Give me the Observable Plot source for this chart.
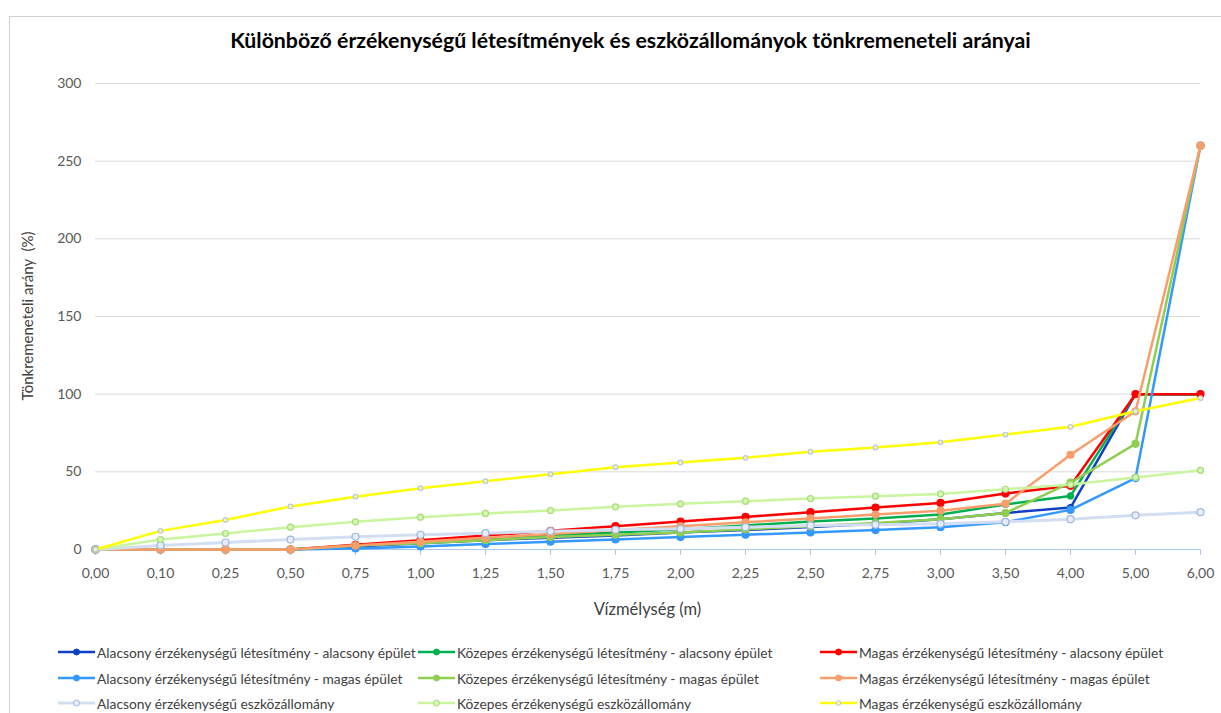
<!DOCTYPE html>
<html><head><meta charset="utf-8">
<script src="https://cdn.jsdelivr.net/npm/d3@7"></script>
<script src="https://cdn.jsdelivr.net/npm/@observablehq/plot@0.6"></script>
<style>
body{margin:0;background:#fff;font-family:Lato,"Open Sans",sans-serif;}
#wrap{position:relative;width:1221px;height:713px;overflow:hidden;background:#fff}
#frame{position:absolute;left:9px;top:16px;width:1240px;height:740px;border:1px solid #d0d0d0;}
#title{position:absolute;top:27px;left:20px;width:1221px;text-align:center;font-size:21.3px;font-weight:bold;color:#000}
#chart{position:absolute;left:0;top:0}
#ylab{position:absolute;left:27px;top:316px;transform:translate(-50%,-50%) rotate(-90deg);font-size:15px;color:#404040;white-space:pre}
#xlab{position:absolute;left:95px;width:1105px;top:599px;text-align:center;font-size:16.5px;color:#404040}
.leg{position:absolute;font-size:13.8px;color:#404040;display:flex;align-items:center;white-space:nowrap;height:16px}
.leg svg{margin-right:2px}
</style></head>
<body><div id="wrap"><div id="frame"></div><div id="chart"></div>
<div id="title">Különböző érzékenységű létesítmények és eszközállományok tönkremeneteli arányai</div>
<div id="ylab">Tönkremeneteli arány  (%)</div>
<div id="xlab">Vízmélység (m)</div>
</div>
<script>
const depths = ["0,00","0,10","0,25","0,50","0,75","1,00","1,25","1,50","1,75","2,00","2,25","2,50","2,75","3,00","3,50","4,00","5,00","6,00"];
const yTicks = [0,50,100,150,200,250,300];
const seriesNames = [
  "Alacsony érzékenységű létesítmény - alacsony épület",
  "Közepes érzékenységű létesítmény - alacsony épület",
  "Magas érzékenységű létesítmény - alacsony épület",
  "Alacsony érzékenységű létesítmény - magas épület",
  "Közepes érzékenységű létesítmény - magas épület",
  "Magas érzékenységű létesítmény - magas épület",
  "Alacsony érzékenységű eszközállomány",
  "Közepes érzékenységű eszközállomány",
  "Magas érzékenységű eszközállomány"
];
const alacsonyAlacsony = [0,0,0,0,2,4,6,7.5,9,11,12.5,14.5,16.5,19.5,23.5,27,100,100];
const kozepesAlacsony  = [0,0,0,0,2.5,5,7,9,11,13,15.5,18,20,22.5,29,34.5,100,100];
const magasAlacsony    = [0,0,0,0,3,6,9,12,15,18,21,24,27,30,36,41,100,100];
const alacsonyMagas    = [0,0,0,0,0.7,2,3.5,5,6.5,8,9.5,11,12.5,14.4,17.6,25.5,46,260];
const kozepesMagas     = [0,0,0,0,2.5,4,6,8,9.5,11,13,15,17,19.5,23.5,43,68,260];
const magasMagas       = [0,0,0,0,2.5,5,7.5,10,12.5,15,17.5,20,22.5,25,29.5,61,89,260];
const alacsonyEszkoz   = [0,2.6,4.5,6.4,8.2,9.5,10.5,11.8,12.7,13.3,14.4,15.5,16,16.5,17.8,19.5,22,24];
const kozepesEszkoz    = [0,6.4,10.3,14.4,17.8,20.8,23.2,25.1,27.5,29.4,31.1,32.8,34.3,35.8,38.8,41.8,46.4,51];
const magasEszkoz      = [0,12,19,27.7,34,39.5,44,48.5,53,56,59,63,65.7,69,74,79,89,97.5];
const allValues = [alacsonyAlacsony,kozepesAlacsony,magasAlacsony,alacsonyMagas,kozepesMagas,magasMagas,alacsonyEszkoz,kozepesEszkoz,magasEszkoz];

const styles = [
  {line:"#0f3fc4", w:2.5, r:3, fill:"#0f3fc4", stroke:"#0f3fc4"},
  {line:"#00b050", w:2.5, r:3, fill:"#00b050", stroke:"#00b050"},
  {line:"#ff0000", w:2.5, r:3.5, fill:"#ff0000", stroke:"#ff0000"},
  {line:"#3399ff", w:2.5, r:3.5, fill:"#3399ff", stroke:"#3399ff"},
  {line:"#8fce4f", w:2.5, r:3.5, fill:"#8fce4f", stroke:"#8fce4f"},
  {line:"#f99d6a", w:2.5, r:3.5, fill:"#f99d6a", stroke:"#f99d6a"},
  {line:"#d3def2", w:3, r:3.5, fill:"#e8eef8", stroke:"#9fb6e0"},
  {line:"#c8f59e", w:2.5, r:3, fill:"#d6f7b6", stroke:"#a7dc78"},
  {line:"#ffff00", w:2.5, r:2.3, fill:"#f2f6c0", stroke:"#b9c9d9"}
];

const data = [];
allValues.forEach((vals,k)=>vals.forEach((v,i)=>data.push({depth:depths[i], value:v, series:seriesNames[k], k})));

const marks = [
  Plot.ruleY(yTicks.filter(d=>d>0), {stroke:"#d9d9d9", strokeWidth:1}),
  Plot.ruleY([0], {stroke:"#a9c7ec", strokeWidth:1}),
  Plot.axisX({tickSize:6, tickPadding:13, stroke:"#a9c7ec", fill:"#595959", fontSize:14, label:null}),
  Plot.axisY({ticks:yTicks, tickSize:0, tickPadding:14, fill:"#595959", fontSize:14, label:null})
];
styles.forEach((s,k)=>{
  const d = data.filter(e=>e.k===k);
  marks.push(Plot.line(d,{x:"depth", y:"value", stroke:s.line, strokeWidth:s.w}));
  marks.push(Plot.dot(d,{x:"depth", y:"value", r:s.r, fill:s.fill, stroke:s.stroke, strokeWidth:1.2}));
});

const chart = Plot.plot({
  width:1221, height:630,
  marginLeft:95, marginRight:21, marginTop:83, marginBottom:81,
  style:{fontFamily:"Lato, 'Open Sans', sans-serif", background:"transparent"},
  x:{type:"point", domain:depths, padding:0, label:null},
  y:{domain:[0,300], label:null},
  marks
});
document.getElementById("chart").appendChild(chart);

const legX = [58,418,820];
const legY = [652,678,703];
const wrap = document.getElementById("wrap");
seriesNames.forEach((name,k)=>{
  const s = styles[k];
  const div = document.createElement("div");
  div.className="leg";
  div.style.left = legX[k%3]+"px";
  div.style.top = (legY[Math.floor(k/3)]-8)+"px";
  div.innerHTML = `<svg width="37" height="12"><line x1="0" y1="6" x2="37" y2="6" stroke="${s.line}" stroke-width="${s.w}"/><circle cx="18.5" cy="6" r="${Math.min(s.r,3)}" fill="${s.fill}" stroke="${s.stroke}" stroke-width="1"/></svg><span></span>`;
  div.querySelector("span").textContent = name;
  wrap.appendChild(div);
});
</script>
</body></html>
